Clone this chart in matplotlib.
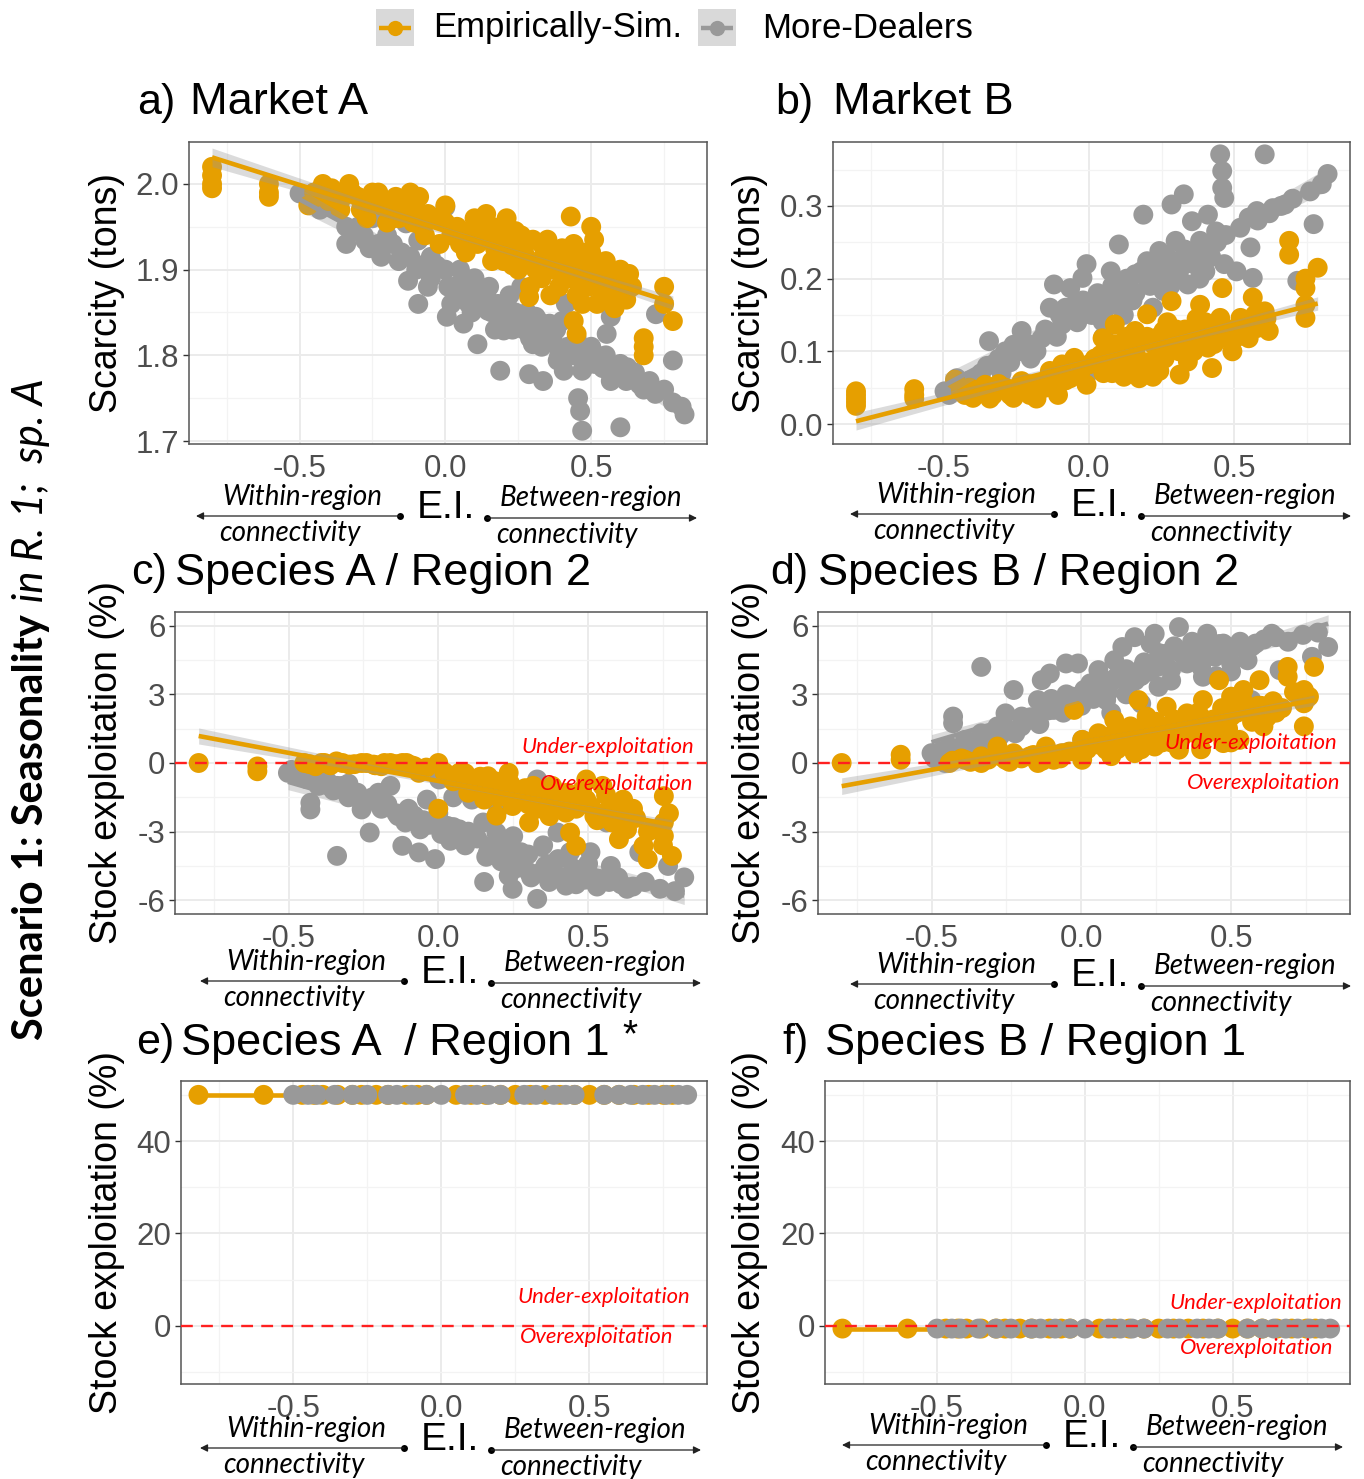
import numpy as np
import matplotlib
matplotlib.use('Agg')
import matplotlib.pyplot as plt
from matplotlib.patches import Rectangle

plt.rcParams['axes.unicode_minus'] = False
plt.rcParams['font.family'] = ['Liberation Sans', 'DejaVu Sans']

W, H, DPI = 1364, 1479, 100
ORANGE = '#E69F00'
GRAY = '#999999'

# ------------------------------------------------------------------ data
series_labels = ['Empirically-Sim.', 'More-Dealers']
panel_letters = ['a)', 'b)', 'c)', 'd)', 'e)', 'f)']
panel_titles = ['Market A', 'Market B', 'Species A / Region 2',
                'Species B / Region 2', 'Species A  / Region 1', 'Species B / Region 1']
ylabels = ['Scarcity (tons)', 'Scarcity (tons)', 'Stock exploitation (%)',
           'Stock exploitation (%)', 'Stock exploitation (%)', 'Stock exploitation (%)']
x_ticks = [-0.5, 0.0, 0.5]
x_ticklabels = ['-0.5', '0.0', '0.5']
yticks_a = [1.7, 1.8, 1.9, 2.0]
yticklabels_a = ['1.7', '1.8', '1.9', '2.0']
yticks_b = [0.0, 0.1, 0.2, 0.3]
yticklabels_b = ['0.0', '0.1', '0.2', '0.3']
yticks_cd = [-6, -3, 0, 3, 6]
yticklabels_cd = ['-6', '-3', '0', '3', '6']
yticks_ef = [0, 20, 40]
yticklabels_ef = ['0', '20', '40']

# panel a: Market A scarcity
a_emp_x = [-0.80, -0.80, -0.80, -0.80, -0.605, -0.605, -0.605, -0.47,
           -0.45, -0.42, -0.40, -0.38, -0.36, -0.33, -0.30, -0.27, -0.25, -0.22, -0.20,
           -0.17, -0.14, -0.12, -0.10, -0.08, -0.06, 0.00, 0.00, -0.02, 0.05, 0.08,
           0.10, 0.12, 0.14, 0.15, 0.17, 0.19, 0.20, 0.22, 0.24, 0.25, 0.27, 0.29,
           0.30, 0.32, 0.34, 0.35, 0.37, 0.39, 0.40, 0.42, 0.44, 0.43, 0.46, 0.47,
           0.50, 0.50, 0.52, 0.53, 0.55, 0.57, 0.58, 0.60, 0.62, 0.64, 0.68, 0.68,
           0.68, 0.75, 0.75, 0.78, 0.287, 0.33, 0.36, 0.41, 0.48, 0.56, 0.21, 0.26,
           0.11, 0.16,
           -0.44, -0.41, -0.39, -0.35, -0.32, -0.29, -0.26, -0.23, -0.19, -0.16, -0.13,
           -0.11, -0.09, -0.07, -0.04, 0.02, 0.04, 0.07, 0.09, 0.13, 0.16, 0.18, 0.21,
           0.23, 0.26, 0.28, 0.31, 0.33, 0.36, 0.38, 0.41, 0.43, 0.45, 0.47, 0.49, 0.51,
           0.54, 0.56, 0.59, 0.61, 0.63, 0.45, 0.52, 0.58, 0.62, 0.44, 0.45]
a_emp_y = [2.02, 2.01, 2.00, 1.995, 2.00, 1.99, 1.985, 1.975,
           1.99, 2.00, 1.98, 1.99, 1.97, 2.00, 1.985, 1.96, 1.99, 1.975, 1.955,
           1.985, 1.98, 1.99, 1.97, 1.95, 1.965, 1.975, 1.955, 1.93, 1.93, 1.945,
           1.96, 1.955, 1.965, 1.94, 1.925, 1.95, 1.91, 1.93, 1.945, 1.90, 1.92, 1.88,
           1.935, 1.91, 1.92, 1.935, 1.90, 1.88, 1.925, 1.905, 1.93, 1.962, 1.88, 1.86,
           1.95, 1.92, 1.90, 1.88, 1.91, 1.895, 1.87, 1.90, 1.885, 1.88, 1.82, 1.80,
           1.81, 1.88, 1.86, 1.84, 1.868, 1.89, 1.87, 1.89, 1.90, 1.87, 1.96, 1.94,
           1.93, 1.91,
           1.985, 1.99, 1.995, 1.985, 1.99, 1.97, 1.98, 1.99, 1.97, 1.96, 1.975,
           1.955, 1.985, 1.94, 1.96, 1.94, 1.95, 1.92, 1.935, 1.94, 1.95, 1.94, 1.92,
           1.905, 1.925, 1.91, 1.90, 1.93, 1.915, 1.905, 1.915, 1.89, 1.905, 1.92, 1.88, 1.935,
           1.895, 1.90, 1.885, 1.875, 1.895, 1.87, 1.86, 1.855, 1.865, 1.84, 1.825]
a_more_x = [-0.50, -0.458, -0.43, -0.39, -0.34, -0.34, -0.275, -0.22, -0.19, -0.163,
            -0.135, -0.128, -0.093, -0.093, -0.05, 0.00, 0.005, 0.062, 0.09, 0.11,
            0.13, 0.146, 0.188, 0.20, 0.26, 0.287, 0.30, 0.335, 0.343, 0.357, 0.385,
            0.406, 0.413, 0.427, 0.455, 0.462, 0.469, 0.469, 0.511, 0.553, 0.567,
            0.567, 0.60, 0.624, 0.666, 0.722, 0.78, 0.82,
            -0.20, -0.15, -0.10, -0.05, 0.00, 0.03, 0.05, 0.08, 0.10, 0.12, 0.15,
            0.18, 0.20, 0.22, 0.25, 0.28, 0.30, 0.32, 0.35, 0.38, 0.40, 0.45, 0.50,
            0.55, 0.60, -0.30, -0.25, -0.40, -0.45, 0.70, 0.75,
            -0.32, -0.28, -0.26, -0.23, -0.18, -0.16, -0.12, -0.08, -0.06, -0.03, 0.01,
            0.02, 0.04, 0.07, 0.09, 0.11, 0.14, 0.16, 0.17, 0.19, 0.21, 0.23, 0.24,
            0.27, 0.29, 0.31, 0.33, 0.34, 0.37, 0.39, 0.42, 0.44, 0.47, 0.49, 0.52,
            0.54, 0.58, 0.62, 0.65, 0.68, 0.72, 0.78, 0.81]
a_more_y = [1.989, 1.985, 1.97, 1.973, 1.95, 1.93, 1.934, 1.915, 1.958, 1.975,
            1.954, 1.887, 1.934, 1.86, 1.915, 1.973, 1.845, 1.837, 1.876, 1.813,
            1.946, 1.852, 1.782, 1.829, 1.88, 1.778, 1.813, 1.77, 1.915, 1.837, 1.794,
            1.782, 1.86, 1.891, 1.75, 1.735, 1.712, 1.782, 1.79, 1.825, 1.845,
            1.77, 1.716, 1.786, 1.766, 1.848, 1.794, 1.731,
            1.94, 1.92, 1.90, 1.89, 1.90, 1.88, 1.90, 1.86, 1.89, 1.87, 1.88,
            1.86, 1.85, 1.87, 1.84, 1.85, 1.83, 1.84, 1.82, 1.83, 1.84, 1.82, 1.81,
            1.80, 1.79, 1.95, 1.96, 1.98, 1.99, 1.77, 1.76,
            1.945, 1.94, 1.925, 1.93, 1.93, 1.91, 1.915, 1.905, 1.88, 1.905, 1.88,
            1.86, 1.87, 1.885, 1.85, 1.86, 1.87, 1.85, 1.83, 1.845, 1.86, 1.83, 1.85,
            1.83, 1.82, 1.845, 1.81, 1.83, 1.815, 1.80, 1.81, 1.80, 1.80, 1.79, 1.80,
            1.785, 1.78, 1.77, 1.78, 1.76, 1.755, 1.745, 1.74]

# panel b: Market B scarcity
b_emp_x = [-0.80, -0.80, -0.80, -0.80, -0.80, -0.60, -0.60, -0.60,
           -0.46, -0.426, -0.398, -0.357, -0.329, -0.287, -0.259, -0.231, -0.203, -0.175,
           -0.134, -0.106, -0.092, -0.064, -0.05, -0.008, 0.00,
           0.047, 0.075, 0.089, 0.117, 0.145, 0.159, 0.173, 0.20, 0.214, 0.242, 0.256,
           0.284, 0.298, 0.312, 0.34, 0.368, 0.382, 0.409, 0.423, 0.451, 0.458, 0.472,
           0.493, 0.521, 0.549, 0.563, 0.577, 0.604, 0.618, 0.688, 0.688, 0.744, 0.744,
           0.744, 0.786, 0.744,
           0.10, 0.20, 0.30, 0.40, 0.50, 0.25, 0.35, 0.15, 0.05, 0.45,
           -0.44, -0.41, -0.38, -0.34, -0.31, -0.27, -0.24, -0.21, -0.18, -0.15, -0.12,
           -0.08, -0.03, 0.02, 0.04, 0.06, 0.08, 0.11, 0.13, 0.16, 0.18, 0.19, 0.22,
           0.24, 0.26, 0.27, 0.29, 0.31, 0.33, 0.36, 0.37, 0.39, 0.41, 0.43, 0.46, 0.48,
           0.51, 0.53, 0.55, 0.57, 0.59, 0.61, 0.08, 0.12, 0.17, 0.22]
b_emp_y = [0.045, 0.040, 0.035, 0.030, 0.025, 0.048, 0.040, 0.035,
           0.061, 0.040, 0.036, 0.054, 0.040, 0.050, 0.036, 0.059, 0.040, 0.054,
           0.073, 0.040, 0.082, 0.063, 0.091, 0.054, 0.082,
           0.118, 0.091, 0.137, 0.073, 0.100, 0.128, 0.063, 0.151, 0.086, 0.073, 0.128,
           0.169, 0.105, 0.068, 0.086, 0.128, 0.164, 0.105, 0.077, 0.146, 0.187, 0.118,
           0.100, 0.146, 0.118, 0.174, 0.132, 0.155, 0.128, 0.252, 0.233, 0.187, 0.146,
           0.164, 0.215, 0.200,
           0.110, 0.120, 0.130, 0.140, 0.130, 0.100, 0.110, 0.080, 0.070, 0.120,
           0.045, 0.050, 0.045, 0.035, 0.055, 0.040, 0.045, 0.055, 0.035, 0.050, 0.055,
           0.060, 0.070, 0.090, 0.095, 0.100, 0.110, 0.090, 0.120, 0.100, 0.115, 0.085, 0.110,
           0.120, 0.090, 0.140, 0.120, 0.100, 0.130, 0.100, 0.145, 0.120, 0.130, 0.110, 0.135, 0.125,
           0.120, 0.140, 0.130, 0.150, 0.140, 0.145, 0.070, 0.065, 0.070, 0.065]
b_more_x = [-0.496, -0.454, -0.398, -0.343, -0.329, -0.287, -0.259, -0.231, -0.203,
            -0.162, -0.134, -0.12, -0.092, -0.064, -0.05, -0.022, -0.008, 0.006, 0.019,
            0.047, 0.075, 0.103, 0.145, 0.159, 0.187, 0.20, 0.242, 0.256, 0.284, 0.298,
            0.326, 0.34, 0.354, 0.382, 0.409, 0.437, 0.451, 0.458, 0.458, 0.465, 0.465,
            0.507, 0.549, 0.555, 0.563, 0.577, 0.604, 0.632, 0.674, 0.716, 0.772, 0.82,
            0.05, 0.10, 0.15, 0.20, 0.25, 0.30, 0.35, 0.40, 0.12, 0.22, -0.10, -0.20,
            -0.30, 0.05, 0.28, 0.38,
            -0.48, -0.44, -0.41, -0.37, -0.35, -0.31, -0.27, -0.24, -0.21, -0.18, -0.15,
            -0.11, -0.08, -0.04, -0.02, 0.01, 0.03, 0.06, 0.08, 0.11, 0.13, 0.16, 0.18,
            0.21, 0.23, 0.26, 0.27, 0.31, 0.33, 0.36, 0.39, 0.42, 0.44, 0.47, 0.52,
            0.58, 0.62, 0.66, 0.70, 0.76, 0.80]
b_more_y = [0.045, 0.063, 0.054, 0.114, 0.082, 0.100, 0.109, 0.128, 0.105,
            0.118, 0.160, 0.192, 0.137, 0.187, 0.164, 0.201, 0.220, 0.073, 0.164,
            0.141, 0.210, 0.247, 0.091, 0.206, 0.288, 0.224, 0.238, 0.183, 0.302, 0.252,
            0.316, 0.192, 0.279, 0.252, 0.288, 0.265, 0.371, 0.348, 0.325, 0.311, 0.220,
            0.210, 0.284, 0.243, 0.201, 0.293, 0.371, 0.297, 0.302, 0.197, 0.275, 0.344,
            0.170, 0.190, 0.170, 0.200, 0.210, 0.220, 0.230, 0.210, 0.150, 0.160, 0.150,
            0.090, 0.070, 0.120, 0.190, 0.200,
            0.040, 0.050, 0.060, 0.070, 0.080, 0.090, 0.085, 0.100, 0.110, 0.100, 0.130,
            0.120, 0.160, 0.140, 0.170, 0.150, 0.180, 0.160, 0.190, 0.170, 0.200, 0.180, 0.210,
            0.190, 0.220, 0.200, 0.230, 0.210, 0.240, 0.220, 0.240, 0.230, 0.250, 0.260, 0.270,
            0.280, 0.290, 0.300, 0.310, 0.320, 0.330]

# panel c: Species A / Region 2
c_emp_x = [-0.80, -0.604, -0.604, -0.447, -0.41, -0.38, -0.34, -0.297, -0.256, -0.216,
           -0.19, -0.16, -0.106, -0.08, -0.065, 0.00, 0.00,
           0.07, 0.098, 0.125, 0.153, 0.166, 0.194, 0.207, 0.235, 0.248, 0.276, 0.303,
           0.317, 0.344, 0.371, 0.398, 0.426, 0.44, 0.46, 0.494, 0.494, 0.521, 0.548,
           0.576, 0.603, 0.617, 0.685, 0.699, 0.753, 0.753, 0.753, 0.78,
           0.05, 0.10, 0.15, 0.20, 0.25, 0.30, 0.35, 0.40, 0.45, 0.55, 0.60, 0.65,
           -0.43, -0.39, -0.36, -0.32, -0.28, -0.24, -0.21, -0.18, -0.14, -0.12, -0.09,
           -0.04, 0.02, 0.06, 0.09, 0.11, 0.14, 0.17, 0.19, 0.22, 0.24, 0.27, 0.29,
           0.31, 0.33, 0.36, 0.38, 0.41, 0.43, 0.46, 0.48, 0.51, 0.53, 0.56, 0.58,
           0.61, 0.63, 0.66, 0.70, 0.75, 0.77]
c_emp_y = [0.00, -0.36, -0.15, 0.00, -0.14, 0.00, 0.07, -0.07, 0.00, -0.07,
           -0.14, 0.00, 0.00, -0.14, -0.43, 0.00, -2.0,
           -0.43, -1.0, -0.72, -1.6, -0.58, -2.3, -1.0, -0.43, -1.88, -1.45, -2.6,
           -1.0, -1.74, -2.32, -1.3, -2.17, -3.04, -3.62, -0.72, -1.6, -2.32, -1.0,
           -1.88, -3.33, -1.6, -3.62, -4.2, -1.45, -2.6, -3.19, -4.06,
           -0.8, -1.3, -0.9, -1.5, -1.1, -1.8, -1.2, -2.0, -1.5, -2.2, -2.4, -2.0,
           -0.05, 0.0, -0.1, 0.0, -0.05, 0.0, -0.1, 0.0, -0.05, 0.0, -0.1,
           -0.2, -0.4, -0.6, -0.45, -0.9, -0.6, -1.2, -0.8, -1.3, -0.9, -1.6, -1.1,
           -1.4, -2.0, -1.6, -1.0, -1.8, -1.3, -2.0, -1.2, -1.9, -2.5, -1.4, -2.6,
           -2.1, -2.9, -2.4, -3.0, -3.6, -2.2]
c_more_x = [-0.502, -0.46, -0.427, -0.427, -0.393, -0.338, -0.338, -0.297, -0.256,
            -0.229, -0.202, -0.16, -0.134, -0.12, -0.065, -0.038, -0.011, 0.003, 0.03,
            0.071, 0.112, 0.153, 0.166, 0.194, 0.235, 0.248, 0.276, 0.303, 0.33, 0.33,
            0.357, 0.398, 0.426, 0.44, 0.48, 0.508, 0.535, 0.562, 0.576, 0.63, 0.671,
            0.712, 0.767, 0.821,
            -0.10, -0.05, 0.00, 0.05, 0.10, 0.15, 0.20, 0.25, 0.30, 0.35, 0.40, 0.45,
            0.50, 0.60, -0.20, -0.30, -0.40, 0.05, 0.20,
            -0.49, -0.47, -0.45, -0.44, -0.41, -0.40, -0.37, -0.35, -0.32, -0.30, -0.27,
            -0.25, -0.22, -0.19, -0.17, -0.14, -0.11, -0.08, -0.06, -0.03, 0.01, 0.04,
            0.07, 0.09, 0.13, 0.16, 0.18, 0.21, 0.23, 0.26, 0.28, 0.31, 0.34, 0.37,
            0.39, 0.42, 0.46, 0.49, 0.53, 0.57, 0.61, 0.65, 0.69, 0.74, 0.79]
c_more_y = [-0.43, -0.58, -1.74, -2.03, -0.72, -1.0, -4.06, -1.3, -2.03,
            -3.04, -1.74, -1.0, -2.32, -3.62, -3.91, -1.6, -4.2, -0.72, -2.75,
            -3.33, -1.6, -5.2, -3.9, -3.04, -4.93, -5.5, -3.9, -4.78, -5.94, -0.72,
            -4.5, -3.04, -5.36, -3.9, -4.78, -3.9, -5.07, -2.6, -4.5, -5.5, -3.9,
            -2.9, -4.5, -5.0,
            -2.0, -2.5, -2.2, -2.8, -3.0, -2.6, -3.5, -3.2, -4.0, -3.6, -4.2, -4.6,
            -4.4, -5.0, -1.3, -0.9, -0.5, -1.5, -2.0,
            -0.3, -0.5, -0.4, -0.7, -0.6, -1.0, -0.8, -1.2, -1.0, -1.5, -1.3,
            -1.7, -1.5, -2.0, -1.8, -2.2, -2.6, -2.3, -2.9, -2.7, -3.1, -3.4,
            -2.9, -3.6, -3.3, -4.1, -3.6, -4.3, -4.0, -4.6, -4.3, -5.0, -4.8, -5.2,
            -4.9, -5.0, -5.3, -5.1, -5.4, -5.2, -5.3, -5.4, -5.2, -5.5, -5.6]

# panel d: Species B / Region 2
d_emp_x = [-0.80, -0.603, -0.603, -0.44, -0.388, -0.334, -0.334, -0.28, -0.253, -0.226,
           -0.172, -0.145, -0.118, -0.092, -0.065, -0.024, 0.003, 0.003,
           0.057, 0.083, 0.11, 0.137, 0.164, 0.178, 0.191, 0.218, 0.245, 0.258, 0.285,
           0.299, 0.326, 0.353, 0.38, 0.406, 0.433, 0.46, 0.474, 0.50, 0.50, 0.528,
           0.541, 0.568, 0.595, 0.608, 0.689, 0.689, 0.743, 0.743, 0.743, 0.777,
           0.05, 0.10, 0.15, 0.20, 0.25, 0.30, 0.35, 0.40, 0.45, 0.55, 0.60, 0.65,
           0.10, 0.20, 0.30, 0.40, 0.50,
           -0.43, -0.40, -0.37, -0.31, -0.27, -0.24, -0.20, -0.16, -0.13, -0.10, -0.07,
           -0.04, 0.02, 0.06, 0.09, 0.12, 0.14, 0.17, 0.19, 0.22, 0.24, 0.27, 0.29,
           0.31, 0.34, 0.37, 0.39, 0.42, 0.44, 0.47, 0.49, 0.52, 0.54, 0.57, 0.59,
           0.62, 0.64, 0.67, 0.71, 0.76]
d_emp_y = [0.00, 0.36, 0.14, 0.00, 0.14, 0.29, 0.00, 0.72, 0.14, 0.43,
           0.29, 0.00, 0.72, 0.14, 0.43, 2.32, 0.14, 1.01,
           1.3, 0.58, 1.88, 1.01, 1.6, 0.43, 2.75, 2.03, 0.72, 1.3, 2.46,
           1.6, 0.58, 2.17, 1.3, 2.75, 1.6, 3.62, 0.87, 2.9, 2.03, 1.01,
           3.19, 2.17, 3.62, 1.6, 4.2, 3.77, 3.19, 2.61, 1.6, 4.2,
           0.9, 1.2, 0.8, 1.5, 1.8, 1.2, 1.7, 2.0, 1.5, 2.4, 2.5, 2.2,
           0.3, 0.6, 0.9, 0.6, 0.9,
           0.1, 0.2, 0.05, 0.15, 0.3, 0.05, 0.2, 0.35, 0.1, 0.3, 0.2,
           0.5, 0.6, 0.8, 1.0, 0.6, 1.3, 0.9, 1.5, 1.1, 1.7, 0.9, 1.4,
           1.9, 1.2, 1.6, 2.2, 1.3, 1.9, 2.4, 1.5, 2.2, 2.7, 1.8, 2.5,
           2.0, 2.7, 2.4, 3.1, 2.9]
d_more_x = [-0.50, -0.455, -0.441, -0.428, -0.428, -0.388, -0.334, -0.334, -0.28,
            -0.253, -0.226, -0.199, -0.145, -0.132, -0.105, -0.092, -0.051, -0.024,
            -0.011, 0.003, 0.03, 0.057, 0.083, 0.11, 0.137, 0.164, 0.178, 0.205, 0.231,
            0.245, 0.258, 0.285, 0.299, 0.326, 0.326, 0.353, 0.38, 0.406, 0.42, 0.447,
            0.474, 0.50, 0.528, 0.555, 0.568, 0.582, 0.636, 0.662, 0.716, 0.77, 0.824,
            -0.10, -0.05, 0.00, 0.05, 0.10, 0.15, 0.20, 0.25, 0.30, 0.35, 0.40, 0.45,
            0.50, -0.20, -0.30, -0.40, 0.10, 0.20,
            -0.49, -0.47, -0.46, -0.44, -0.41, -0.40, -0.37, -0.35, -0.32, -0.30, -0.27,
            -0.25, -0.22, -0.19, -0.17, -0.14, -0.11, -0.08, -0.06, -0.03, 0.01, 0.04,
            0.07, 0.09, 0.12, 0.15, 0.18, 0.21, 0.23, 0.26, 0.28, 0.31, 0.34, 0.37,
            0.39, 0.42, 0.46, 0.49, 0.53, 0.57, 0.61, 0.65, 0.69, 0.74, 0.79]
d_more_y = [0.43, 0.00, 0.72, 2.03, 1.74, 1.01, 4.2, 1.3, 1.6,
            2.17, 3.19, 2.03, 2.75, 3.62, 3.91, 2.32, 4.35, 2.75,
            4.35, 1.01, 3.48, 4.06, 2.75, 4.49, 5.07, 3.48, 5.5, 4.2, 5.22,
            5.65, 3.33, 4.78, 4.06, 5.94, 0.87, 4.35, 5.07, 3.77, 5.65, 4.64,
            5.22, 4.35, 5.07, 4.49, 2.75, 5.22, 5.65, 4.06, 3.04, 4.64, 5.07,
            2.8, 3.0, 2.5, 3.2, 3.6, 3.0, 3.8, 4.2, 3.6, 4.6, 4.2, 3.8,
            4.0, 1.6, 1.0, 0.6, 2.2, 2.6,
            0.2, 0.5, 0.3, 0.1, 0.6, 0.4, 0.8, 0.5, 1.0, 0.8, 1.2,
            1.5, 1.3, 1.8, 2.0, 1.7, 2.3, 2.6, 2.2, 2.9, 3.2, 2.8,
            3.5, 3.1, 3.8, 4.1, 3.6, 4.4, 4.0, 4.8, 4.4, 5.1, 4.7, 5.3,
            4.9, 5.0, 5.2, 5.0, 5.3, 5.1, 5.4, 5.5, 5.3, 5.6, 5.7]

# panels e and f: Region 1 (same runs on the E.I. axis)
ef_emp_x = [-0.82, -0.60, -0.47, -0.43, -0.40, -0.35, -0.30, -0.27, -0.22, -0.18,
            -0.12, -0.08, -0.05, 0.05, 0.10, 0.15, 0.20, 0.25, 0.30, 0.35, 0.40,
            0.45, 0.50, 0.55, 0.60, 0.65, 0.70, 0.75, 0.78]
ef_more_x = [-0.50, -0.45, -0.42, -0.36, -0.30, -0.25, -0.18, -0.15, -0.10, -0.05,
             0.00, 0.08, 0.12, 0.16, 0.20, 0.28, 0.32, 0.38, 0.42, 0.45, 0.55, 0.60,
             0.64, 0.68, 0.72, 0.76, 0.80, 0.83]
e_emp_y = [50.0, 50.0, 50.0, 50.0, 50.0, 50.0, 50.0, 50.0, 50.0, 50.0,
           50.0, 50.0, 50.0, 50.0, 50.0, 50.0, 50.0, 50.0, 50.0, 50.0, 50.0,
           50.0, 50.0, 50.0, 50.0, 50.0, 50.0, 50.0, 50.0]
e_more_y = [50.0, 50.0, 50.0, 50.0, 50.0, 50.0, 50.0, 50.0, 50.0, 50.0,
            50.0, 50.0, 50.0, 50.0, 50.0, 50.0, 50.0, 50.0, 50.0, 50.0, 50.0, 50.0,
            50.0, 50.0, 50.0, 50.0, 50.0, 50.0]
f_emp_y = [-0.6, -0.6, -0.6, -0.6, -0.6, -0.6, -0.6, -0.6, -0.6, -0.6,
           -0.6, -0.6, -0.6, -0.6, -0.6, -0.6, -0.6, -0.6, -0.6, -0.6, -0.6,
           -0.6, -0.6, -0.6, -0.6, -0.6, -0.6, -0.6, -0.6]
f_more_y = [-0.6, -0.6, -0.6, -0.6, -0.6, -0.6, -0.6, -0.6, -0.6, -0.6,
            -0.6, -0.6, -0.6, -0.6, -0.6, -0.6, -0.6, -0.6, -0.6, -0.6, -0.6, -0.6,
            -0.6, -0.6, -0.6, -0.6, -0.6, -0.6]

# ------------------------------------------------------------------ layout (pixels)
boxes = [(189, 707, 142, 444), (833, 1350, 142, 444),
         (175, 707, 612, 914), (818, 1350, 612, 914),
         (181, 707, 1081, 1384), (825, 1350, 1081, 1384)]
ylims = [(1.6965, 2.049), (-0.0275, 0.388), (-6.6, 6.6), (-6.6, 6.6),
         (-12.6, 53.0), (-12.6, 53.0)]
XLIM = (-0.879, 0.897)

fig = plt.figure(figsize=(W / DPI, H / DPI), dpi=DPI)


def fit_band(x, y, xs):
    x = np.asarray(x, float)
    y = np.asarray(y, float)
    n = len(x)
    slope, icpt = np.polyfit(x, y, 1)
    yhat = icpt + slope * xs
    resid = y - (icpt + slope * x)
    s = np.sqrt(np.sum(resid ** 2) / (n - 2))
    se = s * np.sqrt(1.0 / n + (xs - x.mean()) ** 2 / np.sum((x - x.mean()) ** 2))
    return yhat, 1.97 * se


def make_ax(i):
    L, R, T, B = boxes[i]
    ax = fig.add_axes([L / W, 1 - B / H, (R - L) / W, (B - T) / H])
    ax.set_xlim(XLIM)
    ax.set_ylim(ylims[i])
    return ax


data = [
    (a_emp_x, a_emp_y, a_more_x, a_more_y, yticks_a, yticklabels_a, [1.75, 1.85, 1.95]),
    (b_emp_x, b_emp_y, b_more_x, b_more_y, yticks_b, yticklabels_b, [0.05, 0.15, 0.25, 0.35]),
    (c_emp_x, c_emp_y, c_more_x, c_more_y, yticks_cd, yticklabels_cd, [-4.5, -1.5, 1.5, 4.5]),
    (d_emp_x, d_emp_y, d_more_x, d_more_y, yticks_cd, yticklabels_cd, [-4.5, -1.5, 1.5, 4.5]),
    (ef_emp_x, e_emp_y, ef_more_x, e_more_y, yticks_ef, yticklabels_ef, [-10, 10, 30, 50]),
    (ef_emp_x, f_emp_y, ef_more_x, f_more_y, yticks_ef, yticklabels_ef, [-10, 10, 30, 50]),
]

axes = []
for i, (ex, ey, mx, my, yt, ytl, ymin) in enumerate(data):
    ax = make_ax(i)
    axes.append(ax)
    ax.set_xticks(x_ticks)
    ax.set_xticklabels(x_ticklabels)
    ax.set_xticks([-0.75, -0.25, 0.25, 0.75], minor=True)
    ax.set_yticks(yt)
    ax.set_yticklabels(ytl)
    ax.set_yticks(ymin, minor=True)
    ax.grid(which='major', color='#EBEBEB', lw=1.4)
    ax.grid(which='minor', color='#F3F3F3', lw=0.9)
    ax.set_axisbelow(True)
    for sp in ax.spines.values():
        sp.set_color('#555555')
        sp.set_linewidth(1.1)
    ax.tick_params(axis='y', which='major', length=4, width=1, color='#333333',
                   labelsize=22.5, labelcolor='#4D4D4D', pad=3)
    ax.tick_params(axis='x', which='major', length=0, labelsize=22.5,
                   labelcolor='#4D4D4D', pad=7)
    ax.tick_params(which='minor', length=0)
    if i >= 2:
        ax.axhline(0, color='#FF2020', lw=1.7, ls=(0, (5, 3.5)), zorder=7)
    if i < 4:
        z_gray, z_or, z_line = 3.0, 3.1, 5
    else:
        z_gray, z_or, z_line = 3.1, 3.0, 2.8
    ax.scatter(mx, my, s=205, color=GRAY, edgecolors='none', zorder=z_gray)
    ax.scatter(ex, ey, s=205, color=ORANGE, edgecolors='none', zorder=z_or)
    for xs_, ys_, col in ((mx, my, GRAY), (ex, ey, ORANGE)):
        xx = np.linspace(min(xs_), max(xs_), 60)
        yhat, ci = fit_band(xs_, ys_, xx)
        ax.fill_between(xx, yhat - ci, yhat + ci, color='#999999', alpha=0.35, lw=0,
                        zorder=z_line - 0.5)
        ax.plot(xx, yhat, color=col, lw=3.3, zorder=z_line, solid_capstyle='butt')

# ------------------------------------------------------------------ overlay for texts
ov = fig.add_axes([0, 0, 1, 1], zorder=10)
ov.set_xlim(0, W)
ov.set_ylim(H, 0)
ov.axis('off')
ov.patch.set_alpha(0)

# legend
for (kx, tx), lab, col in zip([(376, 433), (698, 762)], series_labels, [ORANGE, GRAY]):
    ov.add_patch(Rectangle((kx, 9), 38, 37, color='#D9D9D9', lw=0))
    ov.plot([kx + 3, kx + 35], [28, 28], color=col, lw=3.2, solid_capstyle='butt')
    ov.plot([kx + 19], [28], 'o', ms=11, color=col, mec='none')
    ov.text(tx, 28, lab, fontsize=25, ha='left', va='center', color='black')

# titles
title_pos = [(137, 190, 103), (775, 833, 103), (131, 175, 573), (770, 818, 573),
             (136, 181, 1043), (782, 825, 1043)]
for (lx, tx, ty), let, tit in zip(title_pos, panel_letters, panel_titles):
    ov.text(lx, ty, let, fontsize=31, ha='left', va='center')
    ov.text(tx, ty, tit, fontsize=32.5, ha='left', va='center')
ov.text(622, 1036, '*', fontsize=28, ha='left', va='center')

# y labels
ylab_pos = [(107, 293), (750, 293), (107, 763), (750, 763), (107, 1232), (750, 1232)]
for (px, py), lab in zip(ylab_pos, ylabels):
    ov.text(px, py, lab, fontsize=27, rotation=90, ha='center', va='center')

# E.I. annotations
ITAL = dict(family=['Lato', 'DejaVu Sans'], style='italic', fontsize=20, color='black')
ei_pos = [(196, 516), (850, 514), (200, 981), (850, 984), (200, 1448), (842, 1445)]
for x0, y0 in ei_pos:
    ov.annotate('', xy=(x0, y0), xytext=(x0 + 204, y0),
                arrowprops=dict(arrowstyle='-|>', color='#222222', lw=0.9,
                                mutation_scale=11, shrinkA=0, shrinkB=0))
    ov.plot([x0 + 204], [y0], 'o', ms=5, color='black', mec='none')
    ov.annotate('', xy=(x0 + 501, y0 + 2), xytext=(x0 + 291, y0 + 2),
                arrowprops=dict(arrowstyle='-|>', color='#222222', lw=0.9,
                                mutation_scale=11, shrinkA=0, shrinkB=0))
    ov.plot([x0 + 291], [y0 + 2], 'o', ms=5, color='black', mec='none')
    ov.text(x0 + 106, y0 - 19, 'Within-region', ha='center', va='center', **ITAL)
    ov.text(x0 + 94, y0 + 17, 'connectivity', ha='center', va='center', **ITAL)
    ov.text(x0 + 395, y0 - 18, 'Between-region', ha='center', va='center', **ITAL)
    ov.text(x0 + 371, y0 + 19, 'connectivity', ha='center', va='center', **ITAL)
    ov.text(x0 + 250, y0 - 8, 'E.I.', fontsize=28, ha='center', va='center')

# exploitation labels
RED = dict(family=['Lato', 'DejaVu Sans'], style='italic', fontsize=15.8, color='#FF0000')
red_pos = [((694, 747), (693, 784)), ((1337, 743), (1340, 783)),
           ((690, 1297), (673, 1337)), ((1342, 1303), (1333, 1348))]
for (u, o) in red_pos:
    ov.text(u[0], u[1], 'Under-exploitation', ha='right', va='center', **RED)
    ov.text(o[0], o[1], 'Overexploitation', ha='right', va='center', **RED)

# side label
t1 = ov.text(31, 1040, 'Scenario 1: Seasonality', rotation=90, ha='center', va='bottom',
             family=['Lato', 'DejaVu Sans'], weight='bold', fontsize=30)
fig.canvas.draw()
bb = t1.get_window_extent()
ytop = ov.transData.inverted().transform((0, bb.y1))[1]
ov.text(31, ytop - 2, ' in R. 1;  sp. A', rotation=90, ha='center', va='bottom',
        family=['Lato', 'DejaVu Sans'], style='italic', fontsize=30)

fig.savefig('out.png', dpi=DPI)
